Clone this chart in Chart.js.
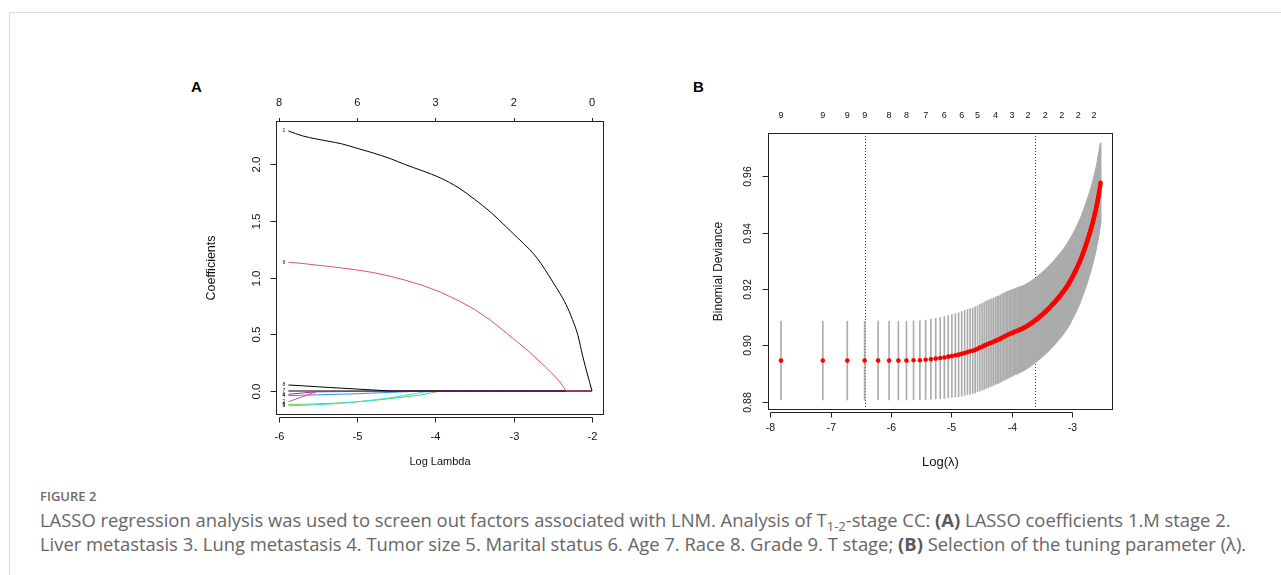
<!DOCTYPE html>
<html>
<head>
<meta charset="utf-8">
<title>Figure 2 - LASSO</title>
<script src="https://cdn.jsdelivr.net/npm/chart.js@4.4.1/dist/chart.umd.min.js"></script>
<style>
  html, body { margin: 0; padding: 0; background: #fff; }
  body { position: relative; width: 1281px; height: 575px; overflow: hidden; }
  .frame { position: absolute; left: 9px; top: 12px; width: 1272px; height: 563px;
           border-left: 1px solid #dadada; border-top: 1px solid #dadada; }
  canvas { position: absolute; }
  #chartA { left: 150px; top: 60px; }
  #chartB { left: 680px; top: 60px; }
  .tag { position: absolute; font: bold 15px "Liberation Sans", Arial, sans-serif; color: #000; line-height: 16px; }
  .fig-no { position: absolute; left: 40px; top: 484px; font: 600 13px "Open Sans", sans-serif;
            color: #6a6a6a; line-height: 24px; }
  .caption { position: absolute; left: 40px; top: 508px; font: 18.4px "Open Sans", sans-serif;
             color: #666; line-height: 24px; white-space: nowrap; }
  .caption b { font-weight: 700; color: #5a5a5a; }
  .caption sub { font-size: 13px; vertical-align: -4px; line-height: 0; }
</style>
</head>
<body>
<div class="frame"></div>
<div class="tag" style="left:191px;top:79px">A</div>
<div class="tag" style="left:693px;top:79px">B</div>
<canvas id="chartA" width="480" height="420"></canvas>
<canvas id="chartB" width="460" height="420"></canvas>
<div class="fig-no">FIGURE 2</div>
<div class="caption">LASSO regression analysis was used to screen out factors associated with LNM. Analysis of T<sub>1-2</sub>-stage CC: <b>(A)</b> LASSO coefficients 1.M stage 2.<br>Liver metastasis 3. Lung metastasis 4. Tumor size 5. Marital status 6. Age 7. Race 8. Grade 9. T stage; <b>(B)</b> Selection of the tuning parameter (λ).</div>

<script>
// ---------- Panel A: coefficient paths ----------
const coefLogLambda = [-5.88, -5.7, -5.52, -5.35, -5.2, -5.0, -4.8, -4.58, -4.4, -4.16,
                       -3.94, -3.7, -3.5, -3.3, -3.1, -2.95, -2.8, -2.7, -2.6, -2.5,
                       -2.41, -2.33, -2.25, -2.18, -2.12, -2.06, -2.0];
const coefMStage    = [2.293, 2.25, 2.222, 2.2, 2.18, 2.14, 2.1, 2.05, 2.0, 1.94,
                       1.88, 1.79, 1.69, 1.58, 1.45, 1.35, 1.25, 1.17, 1.07, 0.96,
                       0.86, 0.76, 0.63, 0.49, 0.31, 0.15, 0];
const coefLiver     = [-0.094, -0.052, -0.006, -0.0055, -0.005, -0.004, -0.003, -0.002, -0.001, 0,
                       0, 0, 0, 0, 0, 0, 0, 0, 0, 0,
                       0, 0, 0, 0, 0, 0, 0];
const coefLung      = [-0.118, -0.117, -0.113, -0.109, -0.104, -0.095, -0.083, -0.068, -0.053, -0.032,
                       0, 0, 0, 0, 0, 0, 0, 0, 0, 0,
                       0, 0, 0, 0, 0, 0, 0];
const coefTumorSize = [-0.041, -0.038, -0.034, -0.031, -0.028, -0.024, -0.018, -0.012, -0.007, 0,
                       0, 0, 0, 0, 0, 0, 0, 0, 0, 0,
                       0, 0, 0, 0, 0, 0, 0];
const coefMarital   = [-0.130, -0.127, -0.121, -0.115, -0.108, -0.096, -0.080, -0.060, -0.040, -0.010,
                       0, 0, 0, 0, 0, 0, 0, 0, 0, 0,
                       0, 0, 0, 0, 0, 0, 0];
const coefAge       = [-0.029, -0.018, -0.006, -0.0055, -0.005, -0.004, -0.003, -0.002, -0.001, 0,
                       0, 0, 0, 0, 0, 0, 0, 0, 0, 0,
                       0, 0, 0, 0, 0, 0, 0];
const coefRace      = [0, 0, 0, 0, 0, 0, 0, 0, 0, 0,
                       0, 0, 0, 0, 0, 0, 0, 0, 0, 0,
                       0, 0, 0, 0, 0, 0, 0];
const coefGrade     = [0.053, 0.046, 0.038, 0.031, 0.025, 0.017, 0.009, 0, 0, 0,
                       0, 0, 0, 0, 0, 0, 0, 0, 0, 0,
                       0, 0, 0, 0, 0, 0, 0];
const coefTStage    = [1.135, 1.125, 1.11, 1.098, 1.085, 1.067, 1.045, 1.012, 0.98, 0.93,
                       0.873, 0.795, 0.72, 0.625, 0.515, 0.43, 0.345, 0.28, 0.215, 0.148,
                       0.08, 0, 0, 0, 0, 0, 0];
const coefXTicks    = [-6, -5, -4, -3, -2];
const coefYTicks    = [0, 0.5, 1, 1.5, 2];
const coefYLabels   = ['0.0', '0.5', '1.0', '1.5', '2.0'];
const coefTopAt     = [-6, -5, -4, -3, -2];
const coefTopLabels = ['8', '6', '3', '2', '0'];

// ---------- Panel B: cross-validation ----------
const cvLambda = [
  0.0004, 0.0008, 0.0012, 0.0016, 0.0020, 0.0024, 0.0028, 0.0032, 0.0036, 0.0040,
  0.0044, 0.0048, 0.0052, 0.0056, 0.0060, 0.0064, 0.0068, 0.0072, 0.0076, 0.0080,
  0.0084, 0.0088, 0.0092, 0.0096, 0.0100, 0.0104, 0.0108, 0.0112, 0.0116, 0.0120,
  0.0124, 0.0128, 0.0132, 0.0136, 0.0140, 0.0144, 0.0148, 0.0152, 0.0156, 0.0160,
  0.0164, 0.0168, 0.0172, 0.0176, 0.0180, 0.0184, 0.0188, 0.0192, 0.0196, 0.0200,
  0.0204, 0.0208, 0.0212, 0.0216, 0.0220, 0.0224, 0.0228, 0.0232, 0.0236, 0.0240,
  0.0244, 0.0248, 0.0252, 0.0256, 0.0260, 0.0264, 0.0268, 0.0272, 0.0276, 0.0280,
  0.0284, 0.0288, 0.0292, 0.0296, 0.0300, 0.0304, 0.0308, 0.0312, 0.0316, 0.0320,
  0.0324, 0.0328, 0.0332, 0.0336, 0.0340, 0.0344, 0.0348, 0.0352, 0.0356, 0.0360,
  0.0364, 0.0368, 0.0372, 0.0376, 0.0380, 0.0384, 0.0388, 0.0392, 0.0396, 0.0400,
  0.0404, 0.0408, 0.0412, 0.0416, 0.0420, 0.0424, 0.0428, 0.0432, 0.0436, 0.0440,
  0.0444, 0.0448, 0.0452, 0.0456, 0.0460, 0.0464, 0.0468, 0.0472, 0.0476, 0.0480,
  0.0484, 0.0488, 0.0492, 0.0496, 0.0500, 0.0504, 0.0508, 0.0512, 0.0516, 0.0520,
  0.0524, 0.0528, 0.0532, 0.0536, 0.0540, 0.0544, 0.0548, 0.0552, 0.0556, 0.0560,
  0.0564, 0.0568, 0.0572, 0.0576, 0.0580, 0.0584, 0.0588, 0.0592, 0.0596, 0.0600,
  0.0604, 0.0608, 0.0612, 0.0616, 0.0620, 0.0624, 0.0628, 0.0632, 0.0636, 0.0640,
  0.0644, 0.0648, 0.0652, 0.0656, 0.0660, 0.0664, 0.0668, 0.0672, 0.0676, 0.0680,
  0.0684, 0.0688, 0.0692, 0.0696, 0.0700, 0.0704, 0.0708, 0.0712, 0.0716, 0.0720,
  0.0724, 0.0728, 0.0732, 0.0736, 0.0740, 0.0744, 0.0748, 0.0752, 0.0756, 0.0760,
  0.0764, 0.0768, 0.0772, 0.0776, 0.0780, 0.0784, 0.0788, 0.0792, 0.0796, 0.0800
];
const cvMean = [
  0.8946, 0.8946, 0.8946, 0.8946, 0.8946, 0.8946, 0.8946, 0.8946, 0.8947, 0.8947,
  0.8949, 0.8951, 0.8953, 0.8955, 0.8957, 0.8960, 0.8962, 0.8965, 0.8967, 0.8970,
  0.8973, 0.8976, 0.8979, 0.8981, 0.8984, 0.8988, 0.8992, 0.8995, 0.8999, 0.9002,
  0.9005, 0.9008, 0.9010, 0.9013, 0.9016, 0.9019, 0.9021, 0.9024, 0.9027, 0.9030,
  0.9033, 0.9035, 0.9038, 0.9040, 0.9042, 0.9044, 0.9046, 0.9048, 0.9050, 0.9051,
  0.9053, 0.9055, 0.9057, 0.9058, 0.9060, 0.9062, 0.9064, 0.9066, 0.9069, 0.9071,
  0.9073, 0.9075, 0.9078, 0.9080, 0.9082, 0.9085, 0.9087, 0.9089, 0.9092, 0.9094,
  0.9097, 0.9099, 0.9102, 0.9104, 0.9107, 0.9109, 0.9112, 0.9114, 0.9117, 0.9119,
  0.9122, 0.9124, 0.9127, 0.9129, 0.9132, 0.9134, 0.9137, 0.9140, 0.9142, 0.9145,
  0.9147, 0.9150, 0.9152, 0.9155, 0.9158, 0.9160, 0.9163, 0.9165, 0.9168, 0.9171,
  0.9173, 0.9176, 0.9178, 0.9181, 0.9184, 0.9186, 0.9189, 0.9191, 0.9194, 0.9197,
  0.9200, 0.9202, 0.9205, 0.9208, 0.9211, 0.9214, 0.9217, 0.9220, 0.9223, 0.9226,
  0.9229, 0.9232, 0.9235, 0.9239, 0.9242, 0.9245, 0.9248, 0.9251, 0.9255, 0.9258,
  0.9261, 0.9264, 0.9268, 0.9271, 0.9275, 0.9278, 0.9282, 0.9285, 0.9289, 0.9292,
  0.9296, 0.9299, 0.9303, 0.9307, 0.9310, 0.9314, 0.9318, 0.9322, 0.9326, 0.9329,
  0.9333, 0.9337, 0.9341, 0.9345, 0.9349, 0.9353, 0.9357, 0.9361, 0.9365, 0.9370,
  0.9374, 0.9378, 0.9382, 0.9386, 0.9390, 0.9394, 0.9398, 0.9402, 0.9407, 0.9411,
  0.9415, 0.9420, 0.9424, 0.9429, 0.9434, 0.9438, 0.9443, 0.9448, 0.9453, 0.9458,
  0.9463, 0.9468, 0.9473, 0.9478, 0.9483, 0.9489, 0.9494, 0.9500, 0.9506, 0.9512,
  0.9518, 0.9524, 0.9530, 0.9536, 0.9543, 0.9549, 0.9556, 0.9563, 0.9570, 0.9577
];
const cvSE = [
  0.0140, 0.0140, 0.0140, 0.0140, 0.0140, 0.0140, 0.0140, 0.0140, 0.0140, 0.0140,
  0.0141, 0.0142, 0.0143, 0.0144, 0.0145, 0.0146, 0.0147, 0.0148, 0.0149, 0.0150,
  0.0151, 0.0151, 0.0152, 0.0152, 0.0153, 0.0153, 0.0154, 0.0154, 0.0155, 0.0155,
  0.0155, 0.0155, 0.0155, 0.0155, 0.0155, 0.0155, 0.0155, 0.0155, 0.0155, 0.0155,
  0.0155, 0.0155, 0.0155, 0.0154, 0.0154, 0.0154, 0.0154, 0.0153, 0.0153, 0.0153,
  0.0153, 0.0153, 0.0152, 0.0152, 0.0152, 0.0152, 0.0151, 0.0151, 0.0151, 0.0151,
  0.0151, 0.0151, 0.0150, 0.0150, 0.0150, 0.0150, 0.0150, 0.0150, 0.0150, 0.0150,
  0.0150, 0.0150, 0.0150, 0.0150, 0.0150, 0.0150, 0.0150, 0.0150, 0.0150, 0.0150,
  0.0150, 0.0150, 0.0150, 0.0150, 0.0150, 0.0150, 0.0150, 0.0150, 0.0150, 0.0150,
  0.0150, 0.0150, 0.0150, 0.0150, 0.0150, 0.0150, 0.0150, 0.0150, 0.0150, 0.0150,
  0.0150, 0.0150, 0.0150, 0.0150, 0.0150, 0.0150, 0.0150, 0.0150, 0.0150, 0.0150,
  0.0150, 0.0150, 0.0150, 0.0150, 0.0150, 0.0150, 0.0150, 0.0150, 0.0150, 0.0150,
  0.0150, 0.0150, 0.0149, 0.0149, 0.0149, 0.0149, 0.0149, 0.0149, 0.0149, 0.0149,
  0.0148, 0.0148, 0.0148, 0.0148, 0.0148, 0.0148, 0.0148, 0.0148, 0.0148, 0.0148,
  0.0148, 0.0148, 0.0147, 0.0147, 0.0147, 0.0147, 0.0147, 0.0147, 0.0147, 0.0147,
  0.0147, 0.0147, 0.0146, 0.0146, 0.0146, 0.0146, 0.0146, 0.0146, 0.0146, 0.0146,
  0.0146, 0.0146, 0.0146, 0.0146, 0.0145, 0.0145, 0.0145, 0.0145, 0.0145, 0.0145,
  0.0145, 0.0145, 0.0145, 0.0145, 0.0144, 0.0144, 0.0144, 0.0144, 0.0144, 0.0144,
  0.0144, 0.0144, 0.0144, 0.0144, 0.0144, 0.0143, 0.0143, 0.0143, 0.0143, 0.0143,
  0.0143, 0.0143, 0.0143, 0.0143, 0.0143, 0.0142, 0.0142, 0.0142, 0.0142, 0.0142
];
// number of non-zero coefficients printed along the top
const cvNzLambda = [0.0004, 0.0008, 0.0012, 0.0016, 0.0024, 0.0032, 0.0044, 0.0060, 0.0080,
                    0.0104, 0.0140, 0.0184, 0.0240, 0.0320, 0.0420, 0.0552, 0.0716];
const cvNzCount  = ['9', '9', '9', '9', '8', '8', '7', '6', '6', '5', '4', '3', '2', '2', '2', '2', '2'];
const cvSelected = [0.0016, 0.0268];   // lambda.min, lambda.1se
const cvXTicks   = [-8, -7, -6, -5, -4, -3];
const cvYTicks   = [0.88, 0.90, 0.92, 0.94, 0.96];
const cvYLabels  = ['0.88', '0.90', '0.92', '0.94', '0.96'];

Chart.defaults.font.family = '"Liberation Sans", Arial, sans-serif';

// R base-graphics style frame, axes and labels, drawn from the chart scales
function baseGraphics(cfg) {
  return {
    id: 'baseGraphics',
    beforeDatasetsDraw(chart) {
      if (!cfg.vlines) return;
      const { ctx, chartArea: a, scales: { x } } = chart;
      ctx.save();
      ctx.strokeStyle = '#3a3a3a';
      ctx.lineWidth = 1;
      ctx.setLineDash([1, 2]);
      cfg.vlines.forEach(v => {
        const px = Math.round(x.getPixelForValue(v)) + 0.5;
        ctx.beginPath();
        ctx.moveTo(px, a.top);
        ctx.lineTo(px, a.bottom);
        ctx.stroke();
      });
      ctx.restore();
    },
    afterDraw(chart) {
      const { ctx, chartArea: a, scales: { x, y } } = chart;
      const L = Math.round(a.left), R = Math.round(a.right);
      const T = Math.round(a.top), B = Math.round(a.bottom);
      ctx.save();
      ctx.strokeStyle = '#222';
      ctx.fillStyle = '#111';
      ctx.lineWidth = 1;
      ctx.strokeRect(L + 0.5, T + 0.5, R - L - 1, B - T - 1);

      // bottom axis
      const xs = cfg.xTicks.map(v => Math.round(x.getPixelForValue(v)) + 0.5);
      const yAx = B + 2.5;
      ctx.beginPath();
      ctx.moveTo(xs[0], yAx);
      ctx.lineTo(xs[xs.length - 1], yAx);
      xs.forEach(p => { ctx.moveTo(p, yAx); ctx.lineTo(p, yAx + 5); });
      // left axis
      const ys = cfg.yTicks.map(v => Math.round(y.getPixelForValue(v)) + 0.5);
      const xAx = L + 0.5;
      ctx.moveTo(xAx, ys[0]);
      ctx.lineTo(xAx, ys[ys.length - 1]);
      ys.forEach(p => { ctx.moveTo(xAx, p); ctx.lineTo(xAx - 6, p); });
      // top axis ticks
      if (cfg.topTicks) {
        cfg.topAt.forEach(v => {
          const p = Math.round(x.getPixelForValue(v)) + 0.5;
          ctx.moveTo(p, T); ctx.lineTo(p, T - 3);
        });
      }
      ctx.stroke();

      ctx.textAlign = 'center';
      ctx.textBaseline = 'middle';
      ctx.font = cfg.tickFont;
      cfg.xTicks.forEach((v, i) => ctx.fillText(String(v), xs[i], B + cfg.xLabelDy));
      ctx.font = cfg.yTickFont;
      cfg.yLabels.forEach((s, i) => {
        ctx.save();
        ctx.translate(L - cfg.yLabelDx, ys[i]);
        ctx.rotate(-Math.PI / 2);
        ctx.fillText(s, 0, 0);
        ctx.restore();
      });
      ctx.font = cfg.topFont;
      cfg.topAt.forEach((v, i) => ctx.fillText(cfg.topLabels[i], x.getPixelForValue(v), T - cfg.topDy));

      ctx.font = cfg.xTitleFont;
      ctx.fillText(cfg.xTitle, (L + R) / 2, B + cfg.xTitleDy);
      ctx.font = cfg.yTitleFont;
      ctx.save();
      ctx.translate(L - cfg.yTitleDx, (T + B) / 2);
      ctx.rotate(-Math.PI / 2);
      ctx.fillText(cfg.yTitle, 0, 0);
      ctx.restore();

      if (cfg.pathLabels) {
        ctx.font = '5px "Liberation Sans", Arial, sans-serif';
        ctx.textAlign = 'right';
        cfg.pathLabels.forEach(l => ctx.fillText(l.text, x.getPixelForValue(l.x) - 3, y.getPixelForValue(l.y)));
      }
      ctx.restore();
    }
  };
}

// ---------- build panel A ----------
// listed bottom -> top in drawing order
const coefSeries = [
  { tag: '7', values: coefRace,      color: '#000000' },
  { tag: '1', values: coefMStage,    color: '#000000', smooth: true },
  { tag: '3', values: coefLung,      color: '#61D04F' },
  { tag: '5', values: coefMarital,   color: '#28E2E5' },
  { tag: '4', values: coefTumorSize, color: '#2297E6' },
  { tag: '2', values: coefLiver,     color: '#DF536B' },
  { tag: '6', values: coefAge,       color: '#CD0BBC' },
  { tag: '8', values: coefGrade,     color: '#000000' },
  { tag: '9', values: coefTStage,    color: '#DF536B' }
];

new Chart(document.getElementById('chartA'), {
  type: 'line',
  data: {
    datasets: coefSeries.map((s, i) => ({
      label: s.tag,
      data: coefLogLambda.map((lx, j) => ({ x: lx, y: s.values[j] })),
      borderColor: s.color,
      borderWidth: 1,
      pointRadius: 0,
      tension: 0,
      cubicInterpolationMode: s.smooth ? 'monotone' : 'default',
      order: coefSeries.length - i
    }))
  },
  options: {
    responsive: false,
    animation: false,
    events: [],
    layout: { padding: { left: 126, top: 61, right: 26, bottom: 65 } },
    plugins: { legend: { display: false }, tooltip: { enabled: false } },
    scales: {
      x: { type: 'linear', display: false, min: -6.038, max: -1.847 },
      y: { type: 'linear', display: false, min: -0.2116, max: 2.381 }
    }
  },
  plugins: [baseGraphics({
    xTicks: coefXTicks, yTicks: coefYTicks, yLabels: coefYLabels,
    topAt: coefTopAt, topLabels: coefTopLabels, topTicks: true,
    tickFont: '11px "Liberation Sans", Arial, sans-serif',
    yTickFont: '11.5px "Liberation Sans", Arial, sans-serif',
    topFont: '11px "Liberation Sans", Arial, sans-serif',
    xLabelDy: 22, yLabelDx: 19, topDy: 18,
    xTitle: 'Log Lambda', xTitleDy: 47, xTitleFont: '11px "Liberation Sans", Arial, sans-serif',
    yTitle: 'Coefficients', yTitleDx: 64, yTitleFont: '12.5px "Liberation Sans", Arial, sans-serif',
    pathLabels: coefSeries.map(s => ({ text: s.tag, x: coefLogLambda[0], y: s.values[0] }))
  })]
});

// ---------- build panel B ----------
const cvLogLambda = cvLambda.map(v => Math.log(v));

new Chart(document.getElementById('chartB'), {
  type: 'scatter',
  data: {
    datasets: [
      {
        type: 'scatter',
        label: 'Mean deviance',
        data: cvLogLambda.map((lx, i) => ({ x: lx, y: cvMean[i] })),
        backgroundColor: '#ff0000',
        borderWidth: 0,
        pointRadius: 2.3,
        order: 1
      },
      {
        type: 'bar',
        label: 'Mean +/- SE',
        data: cvLogLambda.map((lx, i) => ({ x: lx, y: [cvMean[i] - cvSE[i], cvMean[i] + cvSE[i]] })),
        backgroundColor: '#acacac',
        barThickness: 1,
        grouped: false,
        order: 2
      }
    ]
  },
  options: {
    responsive: false,
    animation: false,
    events: [],
    layout: { padding: { left: 88, top: 73, right: 27, bottom: 70 } },
    plugins: { legend: { display: false }, tooltip: { enabled: false } },
    scales: {
      x: { type: 'linear', display: false, offset: false, min: -8.04, max: -2.32 },
      y: { type: 'linear', display: false, min: 0.87705, max: 0.97543 }
    }
  },
  plugins: [baseGraphics({
    xTicks: cvXTicks, yTicks: cvYTicks, yLabels: cvYLabels,
    topAt: cvNzLambda.map(v => Math.log(v)), topLabels: cvNzCount, topTicks: false,
    vlines: cvSelected.map(v => Math.log(v)),
    tickFont: '10.5px "Liberation Sans", Arial, sans-serif',
    yTickFont: '10.5px "Liberation Sans", Arial, sans-serif',
    topFont: '9px "Liberation Sans", Arial, sans-serif',
    xLabelDy: 18, yLabelDx: 20, topDy: 17,
    xTitle: 'Log(λ)', xTitleDy: 52, xTitleFont: '13px "Liberation Sans", Arial, sans-serif',
    yTitle: 'Binomial Deviance', yTitleDx: 49, yTitleFont: '12px "Liberation Sans", Arial, sans-serif'
  })]
});
</script>
</body>
</html>
